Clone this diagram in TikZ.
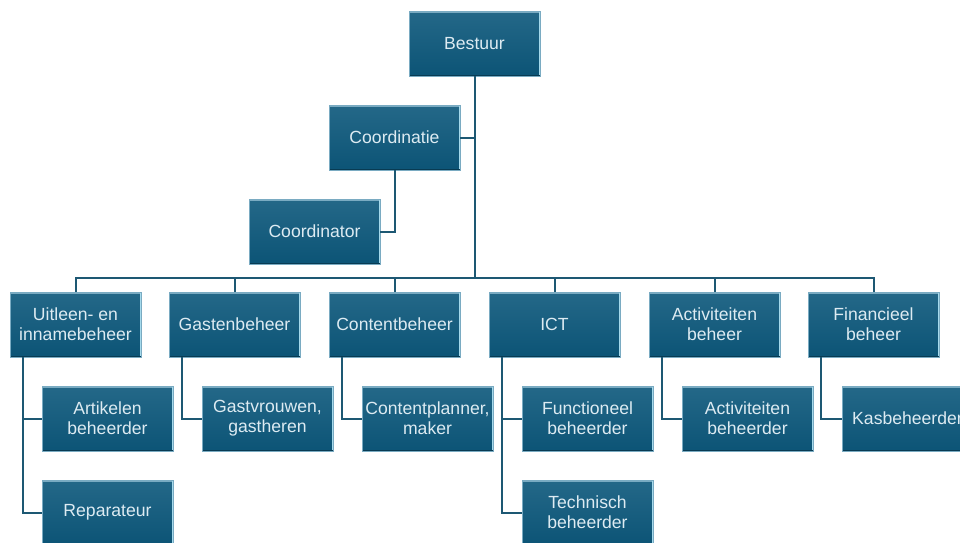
\documentclass[tikz,border=0pt]{standalone}
\usepackage{fontspec}
\setmainfont{Liberation Sans}
\usetikzlibrary{calc}
\usetikzlibrary{positioning}
\definecolor{boxtop}{HTML}{246888}
\definecolor{boxbot}{HTML}{0C5476}
\definecolor{boxedge}{HTML}{A6DAEC}
\definecolor{boxrim}{HTML}{7AABC2}
\definecolor{boxtext}{HTML}{DDEBF2}
\definecolor{linecol}{HTML}{1D5873}
\begin{document}
\begin{tikzpicture}[x=1pt,y=-1pt,
    every node/.style={font=\fontsize{17.6}{20}\selectfont},
    orgbox/.style={rectangle,minimum width=131pt,minimum height=65pt,inner sep=0pt,
      align=center,text=boxtext,top color=boxtop,bottom color=boxbot,draw=boxrim,line width=0.5pt,
      path picture={
        \draw[boxrim,line width=4pt]
          (path picture bounding box.north west) -- (path picture bounding box.north east);
        \draw[boxedge,line width=2.5pt]
          (path picture bounding box.north east) -- (path picture bounding box.south east);
        \draw[boxbot!70!black,line width=1.5pt]
          (path picture bounding box.south west) -- (path picture bounding box.south east);}},
    link/.style={draw=linecol,line width=2pt}]
      \useasboundingbox (0,0) rectangle (960,542);
      \clip (0,0) rectangle (960,542);

      \node[orgbox] (best) at (474.5, 43.5) {Bestuur};
      \node[orgbox] (coord) at (394.5, 137.5) {Coordinatie};
      \node[orgbox] (coordr) at (314.5, 231.5) {Coordinator};

      \node[orgbox] (uit) at (75.5, 324.5) {Uitleen- en\\innamebeheer};
      \node[orgbox] (gas) at (234.5, 324.5) {Gastenbeheer};
      \node[orgbox] (con) at (394.5, 324.5) {Contentbeheer};
      \node[orgbox] (ict) at (554.5, 324.5) {ICT};
      \node[orgbox] (act) at (714.5, 324.5) {Activiteiten\\beheer};
      \node[orgbox] (fin) at (873.5, 324.5) {Financieel\\beheer};

      \node[orgbox] (art) at (107.5, 418.5) {Artikelen\\beheerder};
      \node[orgbox] (gvr) at (267.5, 418.5) {Gastvrouwen,\\gastheren};
      \node[orgbox] (cpl) at (427.5, 418.5) {Contentplanner,\\maker};
      \node[orgbox] (fun) at (587.5, 418.5) {Functioneel\\beheerder};
      \node[orgbox] (acb) at (747.5, 418.5) {Activiteiten\\beheerder};
      \node[orgbox] (kas) at (907.5, 418.5) {Kasbeheerder};

      \node[orgbox] (rep) at (107.5, 512.5) {Reparateur};
      \node[orgbox] (tec) at (587.5, 512.5) {Technisch\\beheerder};

      \foreach \n in {uit,gas,con,ict,act,fin}
        \draw[link] (best.south) -- ++(0,202) -| (\n.north);
      \draw[link] (coord.east) -- (coord.east -| best.south);
      \draw[link] (coord.south) |- (coordr.east);

      \foreach \p/\c in {uit/art,uit/rep,gas/gvr,con/cpl,ict/fun,ict/tec,act/acb,fin/kas}
        \draw[link] ([xshift=13pt]\p.south west) |- (\c.west);

    \end{tikzpicture}
\end{document}
